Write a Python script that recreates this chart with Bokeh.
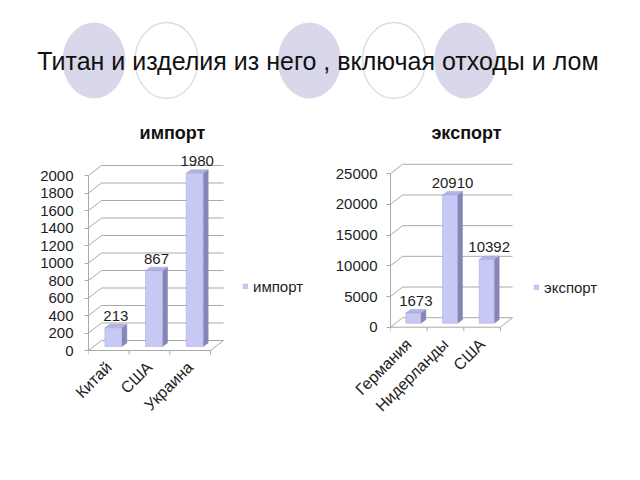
from bokeh.plotting import figure
from bokeh.layouts import column, row
from bokeh.models import ColumnDataSource, FixedTicker, Range1d, Legend, LegendItem, Label
from bokeh.core.properties import value
from bokeh.embed import file_html
from bokeh.resources import INLINE
import math

# ---------------- data ----------------
slide_title = "Титан и изделия из него , включая отходы и лом"

import_title = "импорт"
import_countries = ["Китай", "США", "Украина"]
import_values = [213, 867, 1980]
import_ticks = [0, 200, 400, 600, 800, 1000, 1200, 1400, 1600, 1800, 2000]

export_title = "экспорт"
export_countries = ["Германия", "Нидерланды", "США"]
export_values = [1673, 20910, 10392]
export_ticks = [0, 5000, 10000, 15000, 20000, 25000]

# ---------------- style ----------------
FONT = "Liberation Sans"
FRONT = "#c8c8f4"
SIDE = "#8585b8"
TOP = "#b3b3e2"
GRID = "#a9a9a9"
TXT = "#1e1e1e"
CIRCLE_FILL = "#d8d8ea"
CIRCLE_LINE = "#dedede"
HDR_H = 113
FIG_W, FIG_H = 312, 351
FRAME_BOTTOM = 242  # frame bottom inside each chart figure (px from its top)


def make_chart(title, cats, vals, ticks, px_x, px_y, border_left, zero_px,
               wall, bar_shift, bar_depth, bar_w_px, title_px, legend_loc,
               label_standoff, cat_standoff):
    n = len(cats)
    frame_w = FIG_W - border_left
    p = figure(width=FIG_W, height=FIG_H, title=None,
               x_range=Range1d(0, frame_w / px_x),
               y_range=Range1d(-(FRAME_BOTTOM - zero_px) / px_y, zero_px / px_y),
               toolbar_location=None, output_backend="svg",
               min_border_left=border_left, min_border_right=0,
               min_border_top=0, min_border_bottom=FIG_H - FRAME_BOTTOM)
    p.outline_line_color = None
    p.grid.visible = False
    p.background_fill_color = "white"
    p.border_fill_color = "white"

    dxw, dyw = wall[0] / px_x, wall[1] / px_y
    shx, shy = bar_shift[0] / px_x, bar_shift[1] / px_y
    sdx, sdy = bar_depth[0] / px_x, bar_depth[1] / px_y
    bw = bar_w_px / px_x
    tick_len = 4 / px_y

    # walls / floor
    x0, y0, x1, y1 = [], [], [], []
    for t in ticks:
        x0 += [dxw, 0]; y0 += [t + dyw, t]
        x1 += [n + dxw, dxw]; y1 += [t + dyw, t + dyw]
    x0 += [0, n]; y0 += [0, 0]; x1 += [n, n + dxw]; y1 += [0, dyw]
    for k in range(n + 1):
        x0.append(k); y0.append(0); x1.append(k); y1.append(-tick_len)
    p.segment(x0=x0, y0=y0, x1=x1, y1=y1, line_color=GRID, line_width=1)

    # bars
    cx = [i + 0.5 + shx for i in range(n)]
    left = [c - bw / 2 for c in cx]
    right = [c + bw / 2 for c in cx]
    bottom = [shy] * n
    top = [v + shy for v in vals]
    side_xs = [[r, r + sdx, r + sdx, r] for r in right]
    side_ys = [[b, b + sdy, t + sdy, t] for b, t in zip(bottom, top)]
    top_xs = [[l, r, r + sdx, l + sdx] for l, r in zip(left, right)]
    top_ys = [[t, t, t + sdy, t + sdy] for t in top]
    p.patches(xs=side_xs, ys=side_ys, fill_color=SIDE, line_color=SIDE, line_width=0.5)
    p.patches(xs=top_xs, ys=top_ys, fill_color=TOP, line_color="#a0a0d4", line_width=0.5)
    src = ColumnDataSource(dict(left=left, right=right, bottom=bottom, top=top))
    front = p.quad(left="left", right="right", bottom="bottom", top="top", source=src,
                   fill_color=FRONT, line_color="#a8a8dc", line_width=0.5)

    # data labels
    p.text(x=[c + sdx / 2 for c in cx], y=top, text=[str(v) for v in vals],
           text_align="center", text_baseline="bottom", y_offset=-7,
           text_font=value(FONT), text_font_size="15px", text_color=TXT)

    # chart title
    p.add_layout(Label(x=title_px[0] / px_x, y=(zero_px - title_px[1]) / px_y,
                       text=title, text_align="center", text_baseline="middle",
                       text_font=FONT, text_font_size="18px", text_font_style="bold",
                       text_color="#111111"))

    # value axis
    ya = p.yaxis[0]
    ya.ticker = FixedTicker(ticks=ticks)
    ya.bounds = (ticks[0], ticks[-1])
    ya.axis_line_color = GRID
    ya.major_tick_line_color = GRID
    ya.major_tick_out = 4
    ya.major_tick_in = 0
    ya.minor_tick_line_color = None
    ya.major_label_standoff = label_standoff
    ya.major_label_text_font = FONT
    ya.major_label_text_font_size = "15px"
    ya.major_label_text_color = TXT

    # category axis (labels at category centres, rotated)
    xa = p.xaxis[0]
    centers = [i + 0.5 for i in range(n)]
    xa.ticker = FixedTicker(ticks=centers)
    xa.major_label_overrides = {c: name for c, name in zip(centers, cats)}
    xa.axis_line_color = None
    xa.major_tick_line_color = None
    xa.minor_tick_line_color = None
    xa.major_tick_out = 0
    xa.major_tick_in = 0
    xa.major_label_orientation = math.pi / 4
    xa.major_label_standoff = cat_standoff
    xa.major_label_text_font = FONT
    xa.major_label_text_font_size = "16px"
    xa.major_label_text_color = TXT

    # legend
    leg = Legend(items=[LegendItem(label=title, renderers=[front])], location=legend_loc,
                 background_fill_alpha=0, border_line_color=None, padding=0, margin=0,
                 glyph_width=6, glyph_height=6, label_standoff=5, label_height=18,
                 label_text_font=FONT, label_text_font_size="15px", label_text_color=TXT)
    p.add_layout(leg)
    return p


left = make_chart(import_title, import_countries, import_values, import_ticks,
                  px_x=40.67, px_y=175 / 2000, border_left=88, zero_px=350 - HDR_H,
                  wall=(13, 10), bar_shift=(4.5, 4), bar_depth=(5, 3.5), bar_w_px=17,
                  title_px=(84, 132 - HDR_H), legend_loc=(154, 60),
                  label_standoff=11, cat_standoff=9)

right = make_chart(export_title, export_countries, export_values, export_ticks,
                   px_x=36.67, px_y=153.4 / 25000, border_left=78, zero_px=326.7 - HDR_H,
                   wall=(12, 9.5), bar_shift=(4.5, 4), bar_depth=(5, 3.5), bar_w_px=15,
                   title_px=(76, 132 - HDR_H), legend_loc=(143, 59),
                   label_standoff=9, cat_standoff=-14)

# header
hdr = figure(width=624, height=HDR_H, x_range=Range1d(0, 624), y_range=Range1d(HDR_H, 0),
             toolbar_location=None, output_backend="svg", min_border=0, title=None)
hdr.axis.visible = False
hdr.grid.visible = False
hdr.outline_line_color = None
hdr.ellipse(x=[93.5, 309, 465], y=[60, 60, 60], width=63, height=76,
            fill_color=CIRCLE_FILL, line_color=None)
hdr.ellipse(x=[166, 393.5], y=[60, 60], width=63, height=76,
            fill_color=None, line_color=CIRCLE_LINE, line_width=1.5)
hdr.text(x=[317.5], y=[60], text=[slide_title], text_align="center",
         text_baseline="middle", text_font=value(FONT), text_font_size="25px",
         text_color="#111111")

layout = column(hdr, row(left, right))
open("out.html", "w").write(file_html(layout, INLINE))
